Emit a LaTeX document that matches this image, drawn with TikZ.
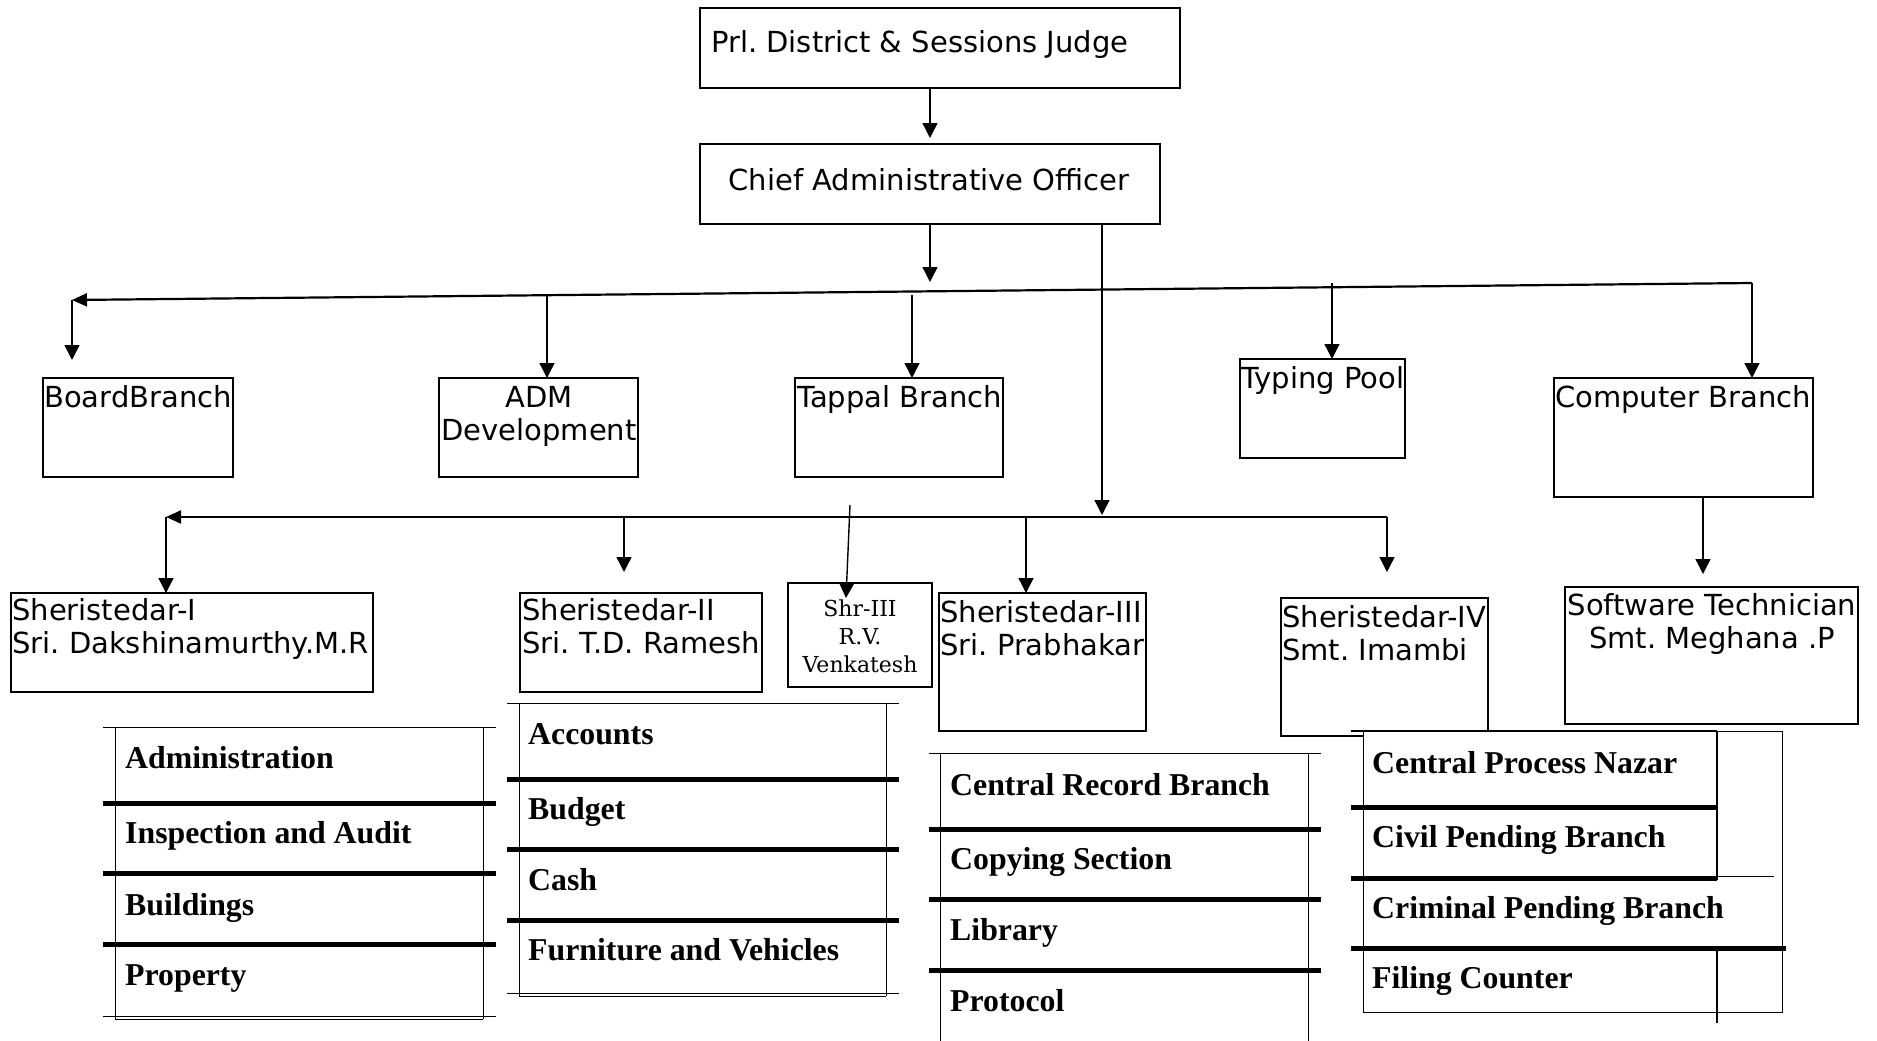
\documentclass[tikz,border=0pt]{standalone}
\usepackage{fontspec}
\newfontfamily\dvsans{DejaVu Sans}
\newfontfamily\dvserif{DejaVu Serif}
\newfontfamily\libserif{Liberation Serif}
\usetikzlibrary{arrows.meta}
\frenchspacing
\tikzset{
  box/.style={draw, line width=1.6pt, anchor=north west, inner sep=0pt, outer sep=0pt, fill=white},
  lbl/.style={font=\dvsans\fontsize{29}{33}\selectfont, inner sep=0pt, anchor=base west},
  lblc/.style={lbl, anchor=base},
  slbl/.style={font=\dvserif\fontsize{22}{28}\selectfont, inner sep=0pt, anchor=base},
  tlbl/.style={font=\libserif\bfseries\fontsize{31.8}{36}\selectfont, inner sep=0pt, anchor=base west},
  conn/.style={line width=1.4pt},
  arr/.style={conn, -{Triangle[length=15pt,width=15pt]}},
  mainline/.style={line width=2.2pt, -{Triangle[length=15pt,width=13pt]}},
  sepline/.style={line width=5pt},
  thinline/.style={line width=1pt},
}
\begin{document}
\begin{tikzpicture}[x=1pt,y=-1pt]
\useasboundingbox (0,0) rectangle (1877,1041);
\fill[white] (0,0) rectangle (1877,1041);

% ---------- boxes ----------
\node[box, minimum width=480pt, minimum height=80pt] (judge) at (700,8) {};
\node[box, minimum width=460pt, minimum height=80pt] (cao) at (700,144) {};
\node[box, minimum width=190pt, minimum height=99pt] (board) at (43,378) {};
\node[box, minimum width=199pt, minimum height=99pt] (adm) at (439,378) {};
\node[box, minimum width=208pt, minimum height=99pt] (tappal) at (795,378) {};
\node[box, minimum width=165pt, minimum height=99pt] (typing) at (1240,359) {};
\node[box, minimum width=259pt, minimum height=119pt] (comp) at (1554,378) {};
\node[box, minimum width=362pt, minimum height=99pt] (sher1) at (11,593) {};
\node[box, minimum width=242pt, minimum height=99pt] (sher2) at (520,593) {};
\node[box, minimum width=144pt, minimum height=104pt] (shr3) at (788,583) {};
\node[box, minimum width=207pt, minimum height=138pt] (sher3) at (939,593) {};
\node[box, minimum width=207pt, minimum height=138pt] (sher4) at (1281,598) {};
\node[box, minimum width=293pt, minimum height=137pt] (soft) at (1565,587) {};

% ---------- box texts ----------
\node[lbl] (judgeT) at (711,53) {Prl. District \& Sessions Judge};
\node[lblc] (caoT) at (929,190) {Chief Administrative Officer};
\node[lbl] (boardT) at (44,407) {BoardBranch};
\node[lblc] (admT1) at (539,407) {ADM};
\node[lblc] (admT2) at (539,440) {Development};
\node[lbl] (tapT) at (797,407) {Tappal Branch};
\node[lbl] (typT) at (1241,388) {Typing Pool};
\node[lbl] (compT) at (1555,407) {Computer Branch};
\node[lbl] (s1a) at (12,620) {Sheristedar-I};
\node[lbl] (s1b) at (12,653) {Sri. Dakshinamurthy.M.R};
\node[lbl] (s2a) at (522,620) {Sheristedar-II};
\node[lbl] (s2b) at (522,653) {Sri. T.D. Ramesh};
\node[slbl] (r3a) at (860,616) {Shr-III};
\node[slbl] (r3b) at (860,644) {R.V.};
\node[slbl] (r3c) at (860,672) {Venkatesh};
\node[lbl] (s3a) at (940,622) {Sheristedar-III};
\node[lbl] (s3b) at (940,655) {Sri. Prabhakar};
\node[lbl] (s4a) at (1282,627) {Sheristedar-IV};
\node[lbl] (s4b) at (1282,660) {Smt. Imambi};
\node[lblc] (sfa) at (1712,615) {Software Technician};
\node[lblc] (sfb) at (1712,648) {Smt. Meghana .P};

% ---------- connector coordinates ----------
\coordinate (h1R) at (1752,283);
\coordinate (h1L) at (72,300);
\coordinate (caoDown) at (930,282);
\coordinate (boardTip) at (72,360);
\coordinate (admTop) at (547,296);
\coordinate (tapTop) at (912,295);
\coordinate (typTop) at (1332,283);
\coordinate (caoR) at (1102,515);
\coordinate (h2R) at (1387,517);
\coordinate (h2L) at (166,517);
\coordinate (s2Top) at (624,517);
\coordinate (s2Tip) at (624,572);
\coordinate (s3Top) at (1026,517);
\coordinate (s4Tip) at (1387,572);
\coordinate (r3Top) at (850,505);
\coordinate (r3Tip) at (846,598);
\coordinate (softTip) at (1703,574);

% ---------- connectors ----------
\draw[arr, shorten >=6pt] (judge.south -| cao.north) -- (cao.north);
\draw[arr] (cao.south) -- (caoDown);
\draw[conn, -{Triangle[length=15pt,width=15pt]}] (cao.south -| caoR) -- (caoR);
\draw[mainline] (h1R) -- (h1L);
\draw[arr] (h1L) -- (boardTip);
\draw[arr] (admTop) -- (admTop |- adm.north);
\draw[arr] (tapTop) -- (tapTop |- tappal.north);
\draw[arr] (typTop) -- (typTop |- typing.north);
\draw[arr] (h1R) -- (h1R |- comp.north);

\draw[line width=2pt, -{Triangle[length=15pt,width=13pt]}] (h2R) -- (h2L);
\draw[arr] (h2L) -- (h2L |- sher1.north);
\draw[arr] (s2Top) -- (s2Tip);
\draw[arr] (s3Top) -- (s3Top |- sher3.north);
\draw[arr] (h2R) -- (s4Tip);
\draw[arr] (r3Top) -- (r3Tip);
\draw[arr] (comp.south -| softTip) -- (softTip);

% ---------- table: Sheristedar-I ----------
\draw[thinline] (103,727) -- (496,727);
\draw[thinline] (115,727) -- (115,1019);
\draw[thinline] (483,727) -- (483,1019);
\draw[thinline] (103,1016) -- (496,1016);
\draw[thinline] (115,1019) -- (483,1019);
\draw[sepline] (103,803) -- (496,803);
\draw[sepline] (103,873) -- (496,873);
\draw[sepline] (103,944) -- (496,944);
\node[tlbl] (t1a) at (125,768) {Administration};
\node[tlbl] (t1b) at (125,843) {Inspection and Audit};
\node[tlbl] (t1c) at (125,915) {Buildings};
\node[tlbl] (t1d) at (125,985) {Property};

% ---------- table: Sheristedar-II ----------
\draw[thinline] (507,703) -- (899,703);
\draw[thinline] (519,703) -- (519,996);
\draw[thinline] (886,703) -- (886,996);
\draw[thinline] (507,993) -- (899,993);
\draw[thinline] (519,996) -- (886,996);
\draw[sepline] (507,779) -- (899,779);
\draw[sepline] (507,849) -- (899,849);
\draw[sepline] (507,920) -- (899,920);
\node[tlbl] (t2a) at (528,744) {Accounts};
\node[tlbl] (t2b) at (528,819) {Budget};
\node[tlbl] (t2c) at (528,890) {Cash};
\node[tlbl] (t2d) at (528,960) {Furniture and Vehicles};

% ---------- table: Sheristedar-III ----------
\draw[thinline] (929,753) -- (1321,753);
\draw[thinline] (940,753) -- (940,1041);
\draw[thinline] (1308,753) -- (1308,1041);
\draw[sepline] (929,829) -- (1321,829);
\draw[sepline] (929,899) -- (1321,899);
\draw[sepline] (929,970) -- (1321,970);
\node[tlbl] (t3a) at (950,795) {Central Record Branch};
\node[tlbl] (t3b) at (950,869) {Copying Section};
\node[tlbl] (t3c) at (950,940) {Library};
\node[tlbl] (t3d) at (950,1011) {Protocol};

% ---------- table: Sheristedar-IV ----------
\fill[white] (1363,731) rectangle (1782,1012);
\draw[thinline] (1363,731) rectangle (1782,1012);
\draw[line width=2.5pt] (1351,731) -- (1717,731);
\draw[line width=1.6pt] (1717,731) -- (1717,880);
\draw[sepline] (1351,807) -- (1717,807);
\draw[sepline] (1351,878) -- (1717,878);
\draw[thinline] (1717,876) -- (1774,876);
\draw[sepline] (1351,948) -- (1786,948);
\draw[line width=1.6pt] (1717,948) -- (1717,1023);
\node[tlbl] (t4a) at (1372,773) {Central Process Nazar};
\node[tlbl] (t4b) at (1372,847) {Civil Pending Branch};
\node[tlbl] (t4c) at (1372,918) {Criminal Pending Branch};
\node[tlbl] (t4d) at (1372,988) {Filing Counter};
\end{tikzpicture}
\end{document}
